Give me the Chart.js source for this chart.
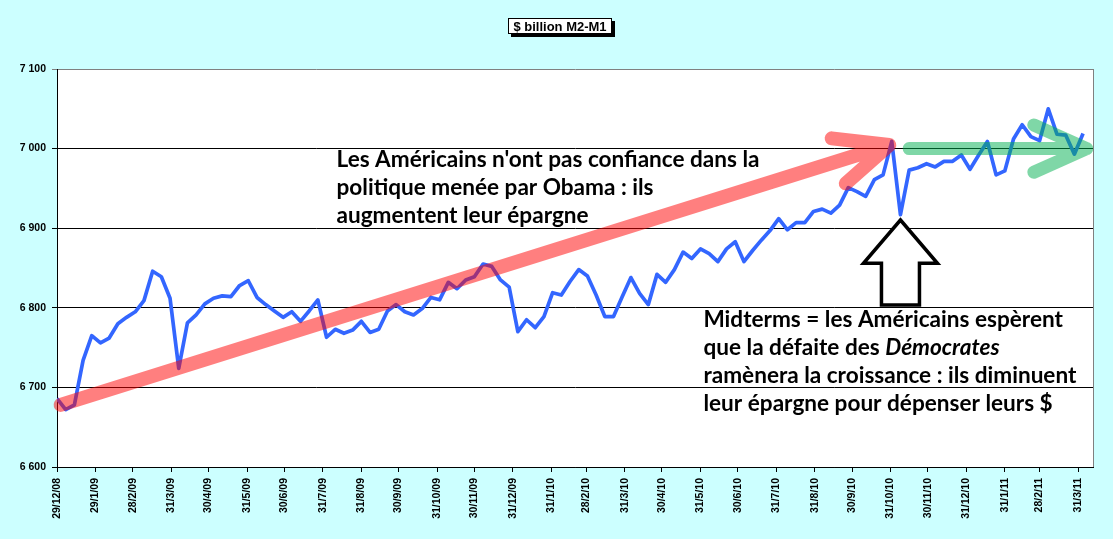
<!DOCTYPE html>
<html>
<head>
<meta charset="utf-8">
<script src="https://cdn.jsdelivr.net/npm/chart.js@4/dist/chart.umd.min.js"></script>
<style>
html,body{margin:0;padding:0;background:#CCFFFF;}
#wrap{width:1113px;height:539px;position:relative;}
</style>
</head>
<body>
<div id="wrap"><canvas id="c"></canvas></div>
<script>
// ---- data ----
const seriesStart = '2008-12-29'; // weekly observations
const values = [
 6686,6672,6678,6734,6765,6756,6762,6780,6788,6795,
 6809,6846,6839,6812,6724,6781,6791,6805,6812,6815,
 6814,6828,6834,6813,6804,6796,6788,6795,6783,6796,
 6810,6763,6773,6768,6772,6783,6769,6773,6796,6804,
 6795,6791,6799,6813,6810,6832,6824,6835,6839,6855,
 6852,6835,6826,6770,6785,6775,6789,6819,6816,6833,
 6848,6840,6816,6789,6789,6814,6838,6818,6804,6842,
 6832,6848,6870,6862,6874,6868,6858,6874,6883,6858,
 6872,6885,6897,6912,6898,6907,6907,6921,6924,6919,
 6929,6951,6946,6940,6961,6967,7009,6917,6973,6976,
 6981,6977,6984,6984,6992,6974,6992,7009,6967,6972,
 7012,7030,7015,7010,7050,7018,7017,6993,7019
];
const xTickLabels = ['29/12/08','29/1/09','28/2/09','31/3/09','30/4/09','31/5/09','30/6/09','31/7/09',
 '31/8/09','30/9/09','31/10/09','30/11/09','31/12/09','31/1/10','28/2/10','31/3/10','30/4/10',
 '31/5/10','30/6/10','31/7/10','31/8/10','30/9/10','31/10/10','30/11/10','31/12/10','31/1/11',
 '28/2/11','31/3/11'];
const yTickValues = [6600,6700,6800,6900,7000,7100];
const titleText = '$ billion M2-M1';
const note1 = ["Les Américains n'ont pas confiance dans la","politique menée par Obama : ils","augmentent leur épargne"];
const note2 = ["Midterms = les Américains espèrent","que la défaite des |Démocrates","ramènera la croissance : ils diminuent","leur épargne pour dépenser leurs $"];

// ---- helpers ----
const DAY = 86400000;
const t0 = Date.parse(seriesStart + 'T00:00:00Z');
function dayOf(lbl){ const p = lbl.split('/').map(Number); return Math.round((Date.UTC(2000+p[2], p[1]-1, p[0]) - t0)/DAY); }
const xTickDays = xTickLabels.map(dayOf);
const labelByDay = {}; xTickDays.forEach((d,i)=>labelByDay[d]=xTickLabels[i]);
const points = values.map((v,i)=>({x:i*7, y:v}));
const fmt = v => String(v).replace(/\B(?=(\d{3})+(?!\d))/g,' ');

const bgPlugin = {
  id:'bg',
  beforeDraw(chart){
    const c = chart.ctx, a = chart.chartArea;
    c.save();
    c.fillStyle = '#CCFFFF'; c.fillRect(0,0,chart.width,chart.height);
    c.fillStyle = '#FFFFFF'; c.fillRect(a.left,a.top,a.right-a.left,a.bottom-a.top);
    c.restore();
  },
  afterDraw(chart){
    const c = chart.ctx, a = chart.chartArea;
    c.save();
    c.strokeStyle = '#808080'; c.lineWidth = 1;
    c.beginPath(); c.moveTo(Math.round(a.right)+0.5, a.top); c.lineTo(Math.round(a.right)+0.5, a.bottom); c.stroke();
    // title box
    const bx = 508, by = 18, bw = 104, bh = 16;
    c.fillStyle = '#000'; c.fillRect(bx+3, by+3, bw, bh);
    c.fillStyle = '#fff'; c.fillRect(bx, by, bw, bh);
    c.strokeStyle = '#000'; c.lineWidth = 1; c.strokeRect(bx+0.5, by+0.5, bw-1, bh-1);
    c.fillStyle = '#000'; c.font = 'bold 13px "Liberation Sans", Arial, sans-serif';
    c.textAlign = 'center'; c.textBaseline = 'middle';
    c.fillText(titleText, bx + bw/2, by + bh/2 + 1);
    c.restore();
  }
};

function thickArrow(c, x0,y0,x1,y1, color, w, len, angDeg){
  const ang = Math.atan2(y0-y1, x0-x1), da = angDeg*Math.PI/180;
  c.save();
  c.strokeStyle = color; c.lineWidth = w; c.lineCap = 'round'; c.lineJoin = 'round';
  c.beginPath();
  c.moveTo(x0,y0); c.lineTo(x1,y1);
  c.moveTo(x1 + len*Math.cos(ang+da), y1 + len*Math.sin(ang+da));
  c.lineTo(x1,y1);
  c.lineTo(x1 + len*Math.cos(ang-da), y1 + len*Math.sin(ang-da));
  c.stroke();
  c.restore();
}

const notePlugin = {
  id:'notes',
  afterDatasetsDraw(chart){
    const c = chart.ctx, X = chart.scales.x, Y = chart.scales.y;
    const px = d => X.getPixelForValue(d), py = v => Y.getPixelForValue(v);
    // red trend arrow
    thickArrow(c, px(2.9), py(6678), px(670), py(7004.5), 'rgba(255,0,0,0.5)', 14, 58, 24);
    // green flat arrow
    thickArrow(c, px(686), py(7000), px(829), py(7000), 'rgba(0,176,80,0.5)', 13, 58, 24);
    // black hollow arrow
    const cx = px(679), ty = py(6910.3), hy = py(6855.9), byy = py(6803.5);
    c.save();
    c.beginPath();
    c.moveTo(cx, ty); c.lineTo(cx+37, hy); c.lineTo(cx+19, hy); c.lineTo(cx+19, byy);
    c.lineTo(cx-19, byy); c.lineTo(cx-19, hy); c.lineTo(cx-37, hy); c.closePath();
    c.fillStyle = '#fff'; c.fill();
    c.strokeStyle = '#000'; c.lineWidth = 3.5; c.lineJoin = 'miter'; c.stroke();
    c.restore();
    // texts
    c.save();
    c.font = 'bold 20px Lato';
    const w20 = c.measureText(note1[0]).width;
    const fs = 20 * 423 / w20;
    const fB = 'bold ' + fs.toFixed(2) + 'px Lato', fI = 'italic bold ' + fs.toFixed(2) + 'px Lato';
    c.fillStyle = '#000'; c.textAlign = 'left'; c.textBaseline = 'alphabetic';
    const drawLines = (lines, x, y0, lh) => {
      lines.forEach((ln, i) => {
        const y = y0 + i*lh;
        const parts = ln.split('|');
        let xx = x;
        parts.forEach((p, k) => {
          c.font = k === 0 ? fB : fI;
          c.fillText(p, xx, y);
          xx += c.measureText(p).width;
        });
      });
    };
    drawLines(note1, px(225), py(6976.9), 28);
    drawLines(note2, px(520.4), py(6776.3), 28.2);
    c.restore();
  }
};

new Chart(document.getElementById('c'), {
  type:'line',
  data:{ datasets:[{ data: points, borderColor:'#3366FF', borderWidth:3.7, pointRadius:0, tension:0, fill:false, borderJoinStyle:'round' }] },
  options:{
    responsive:true, maintainAspectRatio:false, animation:false,
    layout:{ padding:{ left:0, right:20, top:69, bottom:0 } },
    plugins:{ legend:{display:false}, tooltip:{enabled:false}, title:{display:false} },
    scales:{
      x:{
        type:'linear', min:0, max:834,
        afterBuildTicks: s => { s.ticks = xTickDays.map(v => ({value:v})); },
        afterFit: s => { s.height = 72; },
        ticks:{ autoSkip:false, minRotation:90, maxRotation:90, padding:6, color:'#000',
          font:{ family:'"Liberation Sans", Arial, sans-serif', size:10.5, weight:'bold' },
          callback: v => labelByDay[v] },
        grid:{ drawOnChartArea:false, drawTicks:true, tickLength:5, color:'#000' },
        border:{ color:'#000', width:1 }
      },
      y:{
        min:6600, max:7100,
        afterBuildTicks: s => { s.ticks = yTickValues.map(v => ({value:v})); },
        afterFit: s => { s.width = 57; },
        ticks:{ color:'#000', padding:6,
          font:{ family:'"Liberation Sans", Arial, sans-serif', size:10.5, weight:'bold' },
          callback: v => fmt(v) },
        grid:{ color: ctx => (ctx.tick && ctx.tick.value === 7100) ? '#808080' : '#000', tickLength:5, lineWidth:1 },
        border:{ color:'#000', width:1 }
      }
    }
  },
  plugins:[bgPlugin, notePlugin]
});
</script>
</body>
</html>
